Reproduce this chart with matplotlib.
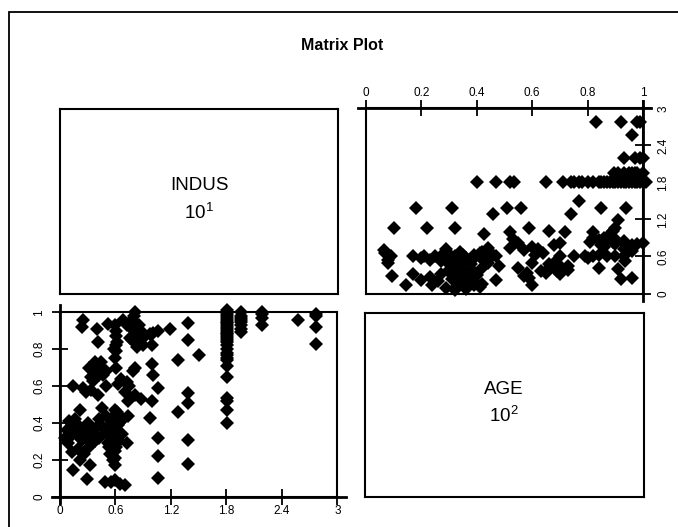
import matplotlib
matplotlib.use("Agg")
import matplotlib.pyplot as plt
from matplotlib.lines import Line2D
from matplotlib.patches import Rectangle

plt.rcParams['font.family'] = ['Liberation Sans', 'DejaVu Sans']
plt.rcParams['mathtext.fontset'] = 'custom'
plt.rcParams['mathtext.rm'] = 'Liberation Sans'
plt.rcParams['mathtext.default'] = 'regular'

# ---------------- data (INDUS / 10, AGE / 100) ----------------
indus = [
    # sparse columns
    2.77, 2.77, 2.77, 2.77,
    2.57,
    2.19, 2.19, 2.19, 2.19,
    1.96, 1.96, 1.96, 1.96, 1.96, 1.96, 1.96, 1.96,
    1.81, 1.81, 1.81, 1.81, 1.81, 1.81, 1.81, 1.81, 1.81, 1.81,
    1.81, 1.81, 1.81, 1.81, 1.81, 1.81, 1.81, 1.81, 1.81, 1.81,
    1.81, 1.81, 1.81, 1.81, 1.81, 1.81, 1.81, 1.81, 1.81, 1.81,
    1.50,
    1.39, 1.39, 1.39, 1.39, 1.39, 1.39,
    1.28, 1.28,
    1.19,
    1.06, 1.06, 1.06, 1.06, 1.06,
    1.01, 0.99, 0.99, 1.01, 0.99, 0.97, 0.97,
    # upper dense region
    0.25, 0.235, 0.40, 0.52, 0.41, 0.685, 0.81, 0.78, 0.85, 0.88,
    0.81, 0.83, 0.61, 0.61, 0.61, 0.61, 0.60, 0.72, 0.38, 0.31,
    0.45, 0.34, 0.50, 0.61, 0.81, 0.79, 0.14, 0.25, 0.34, 0.50,
    0.63, 0.70, 0.81, 0.88, 0.90, 0.62, 0.60, 0.58, 0.80, 0.82,
    0.84, 0.80, 0.86, 0.78, 0.40, 0.42, 0.36, 0.47, 0.66, 0.72,
    0.75, 0.44, 0.36, 0.90, 0.76, 0.41, 0.28, 0.74, 0.60,
    # lower dense region
    0.22, 0.45, 0.50, 0.56, 0.74, 0.13, 0.18, 0.05, 0.27, 0.34,
    0.42, 0.54, 0.67, 0.63, 0.72, 0.13, 0.22, 0.32, 0.14, 0.54,
    0.60, 0.29, 0.49, 0.60, 0.70, 0.235, 0.31, 0.52, 0.61, 0.42,
    0.16, 0.09, 0.60, 0.31, 0.63, 0.52, 0.20, 0.68, 0.17, 0.20,
    0.25, 0.28, 0.30, 0.37, 0.40, 0.47, 0.50, 0.55, 0.58, 0.60,
    0.64, 0.58, 0.62, 0.66, 0.53, 0.57, 0.60, 0.20, 0.26, 0.12,
    0.08, 0.10, 0.30, 0.38, 0.55, 0.65,
]
age = [
    0.83, 0.92, 0.98, 0.99,
    0.96,
    0.93, 0.97, 0.99, 1.00,
    0.895, 0.91, 0.93, 0.95, 0.96, 0.97, 0.98, 1.00,
    1.01, 1.00, 0.99, 0.98, 0.97, 0.96, 0.95, 0.94, 0.93, 0.92,
    0.91, 0.90, 0.89, 0.88, 0.87, 0.86, 0.85, 0.84, 0.82, 0.80,
    0.77, 0.75, 0.74, 0.71, 0.65, 0.535, 0.52, 0.47, 0.40, 0.78,
    0.77,
    0.94, 0.85, 0.56, 0.51, 0.31, 0.18,
    0.74, 0.46,
    0.91,
    0.90, 0.59, 0.32, 0.22, 0.10,
    0.89, 0.82, 0.72, 0.66, 0.52, 0.88, 0.425,
    0.96, 0.92, 0.91, 0.935, 0.84, 0.96, 1.00, 0.96, 0.93, 0.90,
    0.86, 0.81, 0.90, 0.87, 0.82, 0.79, 0.75, 0.93, 0.73, 0.70,
    0.70, 0.65, 0.68, 0.70, 0.70, 0.68, 0.60, 0.59, 0.58, 0.60,
    0.61, 0.57, 0.55, 0.53, 0.86, 0.84, 0.93, 0.80, 0.98, 0.93,
    0.89, 0.90, 0.84, 0.85, 0.70, 0.66, 0.69, 0.66, 0.64, 0.62,
    0.60, 0.73, 0.63, 0.82, 0.86, 0.55, 0.57, 0.52, 0.47,
    0.47, 0.48, 0.44, 0.42, 0.44, 0.39, 0.35, 0.32, 0.38, 0.36,
    0.32, 0.34, 0.34, 0.39, 0.29, 0.24, 0.20, 0.17, 0.145, 0.23,
    0.17, 0.094, 0.08, 0.09, 0.064, 0.31, 0.27, 0.29, 0.27, 0.42,
    0.42, 0.29, 0.21, 0.32, 0.35, 0.38, 0.39, 0.42, 0.37, 0.33,
    0.36, 0.33, 0.40, 0.34, 0.38, 0.38, 0.35, 0.31, 0.36, 0.32,
    0.30, 0.44, 0.46, 0.41, 0.27, 0.20, 0.25, 0.26, 0.23, 0.33,
    0.36, 0.41, 0.31, 0.30, 0.08, 0.07,
]

indus_ticks = [0, 0.6, 1.2, 1.8, 2.4, 3]
indus_labels = ['0', '0.6', '1.2', '1.8', '2.4', '3']
age_ticks = [0, 0.2, 0.4, 0.6, 0.8, 1]
age_labels = ['0', '0.2', '0.4', '0.6', '0.8', '1']

title = 'Matrix Plot'
var_names = ['INDUS', 'AGE']
var_scales = [r'10$^{1}$', r'10$^{2}$']

# ---------------- layout ----------------
W, H = 678, 527
fig = plt.figure(figsize=(W / 100, H / 100), dpi=100)


def ax_px(l, t, r, b):
    return fig.add_axes([l / W, 1 - b / H, (r - l) / W, (b - t) / H])


# outer frame (left / top visible)
fig.patches.append(Rectangle((9 / W, -0.1), 1.2, 1 - 12 / H + 0.1, fill=False,
                             lw=1.3, edgecolor='black', transform=fig.transFigure))

fig.text(342 / W, 1 - 45 / H, title, ha='center', va='center',
         fontsize=11.5, fontweight='bold')

TICKLEN = 11.5
MS = 7.0
LBL = 8.5


def style_box(ax):
    for s in ax.spines.values():
        s.set_linewidth(1.5)


def axis_line(ax, x0, y0, x1, y1):
    ax.add_line(Line2D([x0, x1], [y0, y1], transform=ax.transAxes,
                       color='black', lw=2.0, clip_on=False))


# diagonal label boxes
for (l, t, r, b), name, sc in [((60, 109, 338, 294), var_names[0], var_scales[0]),
                               ((365, 312.7, 643.5, 497), var_names[1], var_scales[1])]:
    ax = ax_px(l, t, r, b)
    ax.set_xticks([]); ax.set_yticks([])
    style_box(ax)
    ax.text(0.5, 0.585, name, ha='center', va='center', fontsize=13.5,
            transform=ax.transAxes)
    ax.text(0.5, 0.44, sc, ha='center', va='center', fontsize=13.5,
            transform=ax.transAxes)

# bottom-left: x = INDUS, y = AGE
ax1 = ax_px(60, 312.3, 337.3, 496.7)
ax1.plot(indus, age, linestyle='none', marker='D', ms=MS, color='black',
         markeredgewidth=0, clip_on=False)
ax1.set_xlim(0, 3); ax1.set_ylim(0, 1)
ax1.set_xticks(indus_ticks); ax1.set_xticklabels(indus_labels)
ax1.set_yticks(age_ticks)
ax1.set_yticklabels(age_labels, rotation=90, va='center')
ax1.tick_params(axis='both', direction='inout', length=TICKLEN, width=1.3,
                labelsize=LBL)
ax1.tick_params(axis='x', pad=0.0)
ax1.tick_params(axis='y', pad=5.0)
style_box(ax1)
axis_line(ax1, -0.03, 0, 1.03, 0)
axis_line(ax1, 0, -0.035, 0, 1.04)

# top-right: x = AGE, y = INDUS
ax2 = ax_px(366, 108.3, 643, 293.5)
ax2.plot(age, indus, linestyle='none', marker='D', ms=MS, color='black',
         markeredgewidth=0, clip_on=False)
ax2.set_xlim(0, 1); ax2.set_ylim(0, 3)
ax2.xaxis.tick_top(); ax2.yaxis.tick_right()
ax2.set_xticks(age_ticks); ax2.set_xticklabels(age_labels)
ax2.set_yticks(indus_ticks)
ax2.set_yticklabels(indus_labels, rotation=90, va='center')
ax2.tick_params(axis='both', direction='inout', length=TICKLEN, width=1.3,
                labelsize=LBL)
ax2.tick_params(axis='x', pad=0.8)
ax2.tick_params(axis='y', pad=4.5)
style_box(ax2)
axis_line(ax2, -0.03, 1, 1.03, 1)
axis_line(ax2, 1, -0.04, 1, 1.04)

fig.savefig('out.png', dpi=100)
